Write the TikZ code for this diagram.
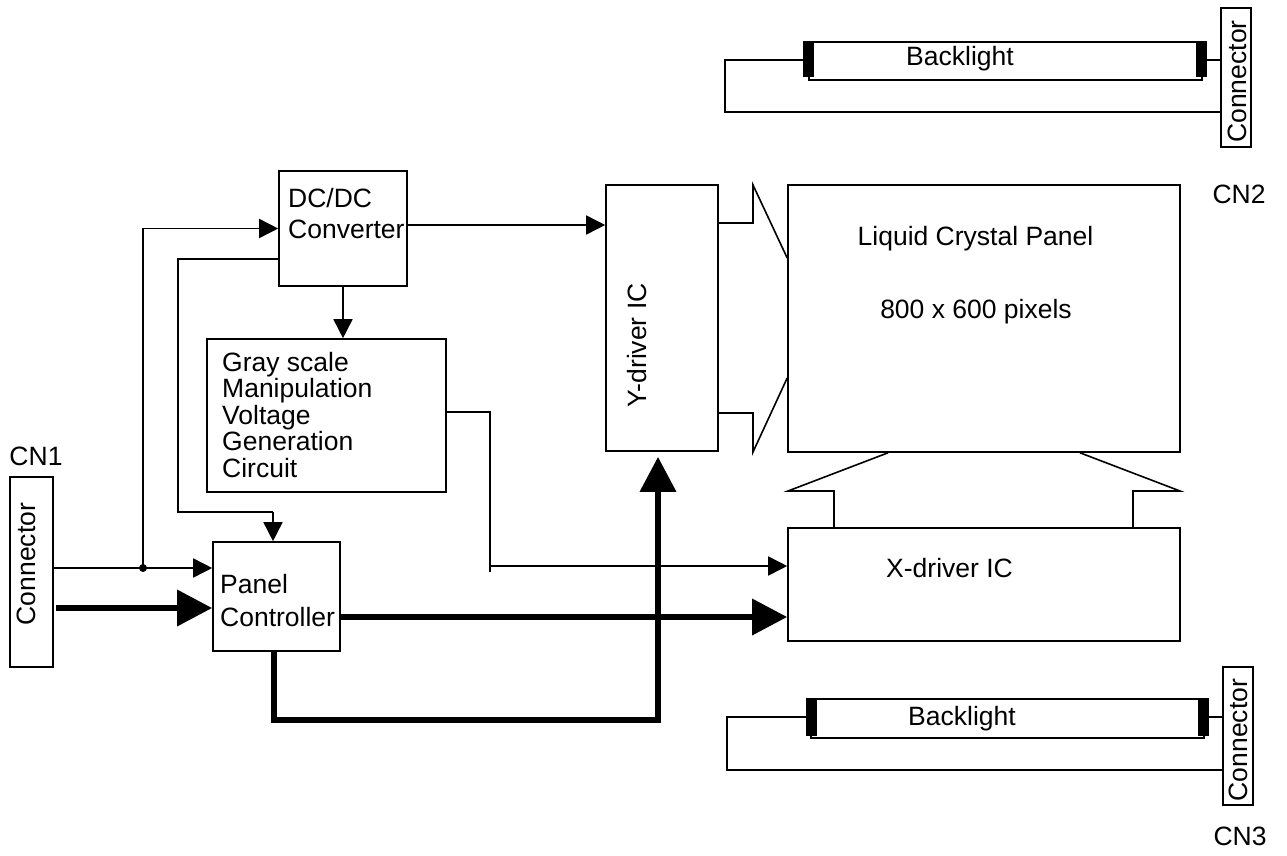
\documentclass[tikz,border=0pt]{standalone}
\usepackage{fontspec}
\setmainfont{Liberation Sans}
\usetikzlibrary{arrows.meta}
\begin{document}
\begin{tikzpicture}[x=1pt,y=-1pt,
  ln/.style={line width=1.6pt},
  box/.style={draw, line width=1.6pt, inner sep=0pt},
  bar/.style={fill=black, inner sep=0pt, minimum width=11pt, minimum height=36pt},
  txt/.style={inner sep=0pt, font=\fontsize{26.5}{26.5}\selectfont},
  arr/.style={line width=1.6pt, -{Triangle[length=19pt,width=19pt]}},
  bigarr/.style={line width=6.5pt, -{Triangle[length=35pt,width=35pt]}}]
\useasboundingbox (0,0) rectangle (1287,856);

% ---- blocks
\node[box, minimum width=128pt, minimum height=115pt] (dcdc) at (343,228.5) {};
\node[box, minimum width=239pt, minimum height=153pt] (gray) at (326.5,415.5) {};
\node[box, minimum width=127pt, minimum height=109pt] (panel) at (276.5,596.5) {};
\node[box, minimum width=112pt, minimum height=266pt] (ydrv) at (662,318) {};
\node[box, minimum width=392pt, minimum height=267pt] (lcp) at (984,318.5) {};
\node[box, minimum width=392pt, minimum height=113pt] (xdrv) at (984,584.5) {};
\node[box, minimum width=43pt, minimum height=190pt] (cn1) at (31.5,572) {};
\node[box, minimum width=30pt, minimum height=139pt] (cn2) at (1236,77.5) {};
\node[box, minimum width=30pt, minimum height=138pt] (cn3) at (1238,736) {};

% ---- backlight tubes
\node[box, minimum width=393pt, minimum height=38pt] (tube1) at (1005.5,61) {};
\node[bar] (b1l) at (808.5,59) {};
\node[bar] (b1r) at (1201.5,59) {};
\node[box, minimum width=393pt, minimum height=39pt] (tube2) at (1007.5,718.5) {};
\node[bar, minimum height=38pt] (b2l) at (811.5,717) {};
\node[bar, minimum height=38pt] (b2r) at (1203.5,717) {};

% ---- texts
\node[txt, anchor=base west] (t1) at (288,207) {DC/DC};
\node[txt, anchor=base west] (t2) at (288,238) {Converter};
\node[txt, anchor=base west] (g1) at (222,371) {Gray scale};
\node[txt, anchor=base west] (g2) at (222,397.5) {Manipulation};
\node[txt, anchor=base west] (g3) at (222,424) {Voltage};
\node[txt, anchor=base west] (g4) at (222,450.5) {Generation};
\node[txt, anchor=base west] (g5) at (222,477) {Circuit};
\node[txt, anchor=base west] (p1) at (220,593) {Panel};
\node[txt, anchor=base west] (p2) at (220,626) {Controller};
\node[txt, anchor=base] (l1) at (975.5,245) {Liquid Crystal Panel};
\node[txt, anchor=base] (l2) at (976,318) {800 x 600 pixels};
\node[txt, anchor=base west] (xt) at (886,577) {X-driver IC};
\node[txt, anchor=base, rotate=90] (yt) at (646,345.5) {Y-driver IC};
\node[txt, anchor=base, rotate=90] (c1t) at (35,564) {Connector};
\node[txt, anchor=base, rotate=90] (c2t) at (1246,81.5) {Connector};
\node[txt, anchor=base, rotate=90] (c3t) at (1247,740) {Connector};
\node[txt, anchor=base] (cn1l) at (36,465) {CN1};
\node[txt, anchor=base] (cn2l) at (1239,203) {CN2};
\node[txt, anchor=base] (cn3l) at (1240,845) {CN3};
\node[txt, anchor=base] (bl1) at (960,66) {Backlight};
\node[txt, anchor=base] (bl2) at (962,725) {Backlight};

% ---- backlight wiring
\coordinate (w1) at (725,60);
\coordinate (w2) at (725,112);
\draw[ln] (b1l.west |- w1) -- (w1) -- (w2) -- (cn2.west |- w2);
\draw[ln] (b1r.east |- w1) -- (cn2.west |- w1);
\coordinate (w3) at (727,717);
\coordinate (w4) at (727,770);
\draw[ln] (b2l.west |- w3) -- (w3) -- (w4) -- (cn3.west |- w4);
\draw[ln] (b2r.east |- w3) -- (cn3.west |- w3);

% ---- thin signal lines
\coordinate (j1) at (143,568);
\draw[arr] (cn1.east |- j1) -- (panel.west |- j1);
\fill (j1) circle (4pt);
\draw[arr] (j1) |- (dcdc.west);
\coordinate (f1) at (178,259);
\coordinate (f2) at (273,512);
\draw[ln] (dcdc.west |- f1) -- (f1) |- (f2);
\draw[arr] (f2) -- (panel.north -| f2);
\coordinate (ya) at (0,225);
\draw[arr] (dcdc.east |- ya) -- (ydrv.west |- ya);
\draw[arr] (dcdc.south) -- (gray.north -| dcdc.south);
\coordinate (gx) at (490,412);
\coordinate (gy) at (490,572);
\coordinate (gz) at (490,566);
\draw[ln] (gray.east |- gx) -- (gx) -- (gy);
\draw[arr] (gz) -- (xdrv.west |- gz);

% ---- thick buses
\coordinate (k1) at (56,608);
\draw[bigarr] (k1) -- (panel.west |- k1);
\coordinate (k2) at (0,617);
\draw[bigarr] (panel.east |- k2) -- (xdrv.west |- k2);
\coordinate (k3) at (274,720);
\coordinate (k4) at (658,720);
\draw[bigarr] (panel.south -| k3) -- (k3) -- (k4) -- ([yshift=-5pt]ydrv.south -| k4);

% ---- hollow block arrows
\coordinate (ha1) at (753,223);
\coordinate (ha2) at (753,185);
\coordinate (ha3) at (788,258);
\draw[ln] (ydrv.east |- ha1) -- (ha1) -- (ha2) -- (lcp.west |- ha3);
\coordinate (hb1) at (753,413);
\coordinate (hb2) at (753,452);
\coordinate (hb3) at (788,378);
\draw[ln] (ydrv.east |- hb1) -- (hb1) -- (hb2) -- (lcp.west |- hb3);
\coordinate (hc0) at (888,452);
\coordinate (hc1) at (788,491);
\coordinate (hc2) at (834,491);
\draw[ln] (lcp.south -| hc0) -- (hc1) -- (hc2) -- (xdrv.north -| hc2);
\coordinate (hd0) at (1080,452);
\coordinate (hd1) at (1180,491);
\coordinate (hd2) at (1133,491);
\draw[ln] (lcp.south -| hd0) -- (hd1) -- (hd2) -- (xdrv.north -| hd2);
\end{tikzpicture}
\end{document}
